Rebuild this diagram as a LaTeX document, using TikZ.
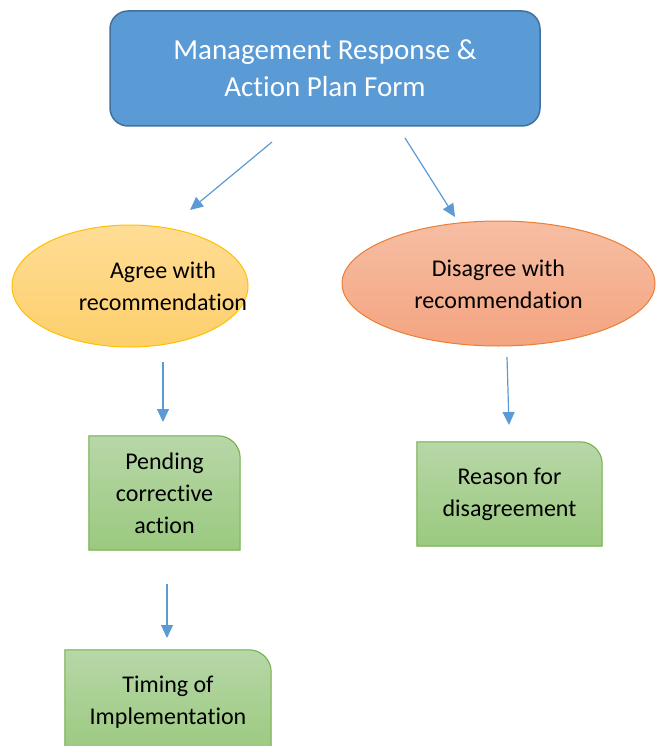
\documentclass[tikz,border=0pt]{standalone}
\usepackage{fontspec}
\setmainfont{Carlito}[Ligatures=NoCommon]
\usetikzlibrary{arrows.meta,shapes.geometric,backgrounds}

\definecolor{topblue}{HTML}{5B9BD5}
\definecolor{topedge}{HTML}{41719C}
\definecolor{agreetop}{HTML}{FFDD95}
\definecolor{agreebot}{HTML}{FDCF6C}
\definecolor{agreeedge}{HTML}{FFC000}
\definecolor{distop}{HTML}{F6BEA4}
\definecolor{disbot}{HTML}{F4A480}
\definecolor{disedge}{HTML}{ED7D31}
\definecolor{greentop}{HTML}{B7D7A8}
\definecolor{greenbot}{HTML}{9BC97F}
\definecolor{greenedge}{HTML}{70AD47}

\tikzset{
  headbox/.style={rectangle, rounded corners=18pt, draw=topedge, line width=1.5pt,
    fill=topblue, minimum width=430pt, minimum height=115pt, text=white,
    font=\fontsize{29}{37}\selectfont, align=center},
  oval/.style={ellipse, line width=1pt, inner sep=0pt},
  txt/.style={font=\fontsize{24}{32}\selectfont, align=center, inner sep=0pt},
  leafbox/.style={line width=1pt, draw=greenedge, top color=greentop, bottom color=greenbot},
  flow/.style={draw=topblue, line width=1.2pt, -{Triangle[length=13pt,width=12pt]}}
}

\begin{document}
\begin{tikzpicture}[x=1pt,y=-1pt]
  \clip (0,0) rectangle (661,746);
  \useasboundingbox (0,0) rectangle (661,746);

  \node[headbox] (form) at (325,68.5) {Management Response \&\\Action Plan Form};

  \node[oval, minimum width=236pt, minimum height=122pt, draw=agreeedge,
    top color=agreetop, bottom color=agreebot] (agree) at (130,286) {};
  \node[txt] (agreetext) at (163,286) {Agree with\\recommendation};

  \node[oval, minimum width=313pt, minimum height=125pt, draw=disedge,
    top color=distop, bottom color=disbot] (disagree) at (498.5,283.5) {};
  \node[txt] (disagreetext) at (498.5,284) {Disagree with\\recommendation};

  \node[txt, minimum width=151pt, minimum height=114pt] (pending) at (164.5,493)
    {Pending\\corrective\\action};
  \node[txt, minimum width=185pt, minimum height=104pt] (reason) at (509.5,494)
    {Reason for\\disagreement};
  \node[txt, minimum width=206pt, minimum height=104pt] (timing) at (168,702)
    {Timing of\\Implementation};

  % boxes with one round corner
  \begin{scope}[on background layer]
    \foreach \b in {pending,reason,timing}
      \draw[leafbox] (\b.south west) -- (\b.north west) -- ([xshift=-22pt]\b.north east)
        .. controls ([xshift=-10pt]\b.north east) and ([yshift=-10pt]\b.north east)
        .. ([yshift=-22pt]\b.north east) -- (\b.south east) -- cycle;
  \end{scope}

  % free arrow ends
  \coordinate (s1) at (272,142);
  \coordinate (e1) at (190,210);
  \coordinate (s2) at (405,138);
  \coordinate (e2) at (455,217);
  \coordinate (s3) at (163,362);
  \coordinate (e3) at (163,422);
  \coordinate (s4) at (507,357);
  \coordinate (e4) at (509,425);
  \coordinate (s5) at (167,584);
  \coordinate (e5) at (167,638);

  \draw[flow] (s1) -- (e1);
  \draw[flow] (s2) -- (e2);
  \draw[flow] (s3) -- (e3);
  \draw[flow] (s4) -- (e4);
  \draw[flow] (s5) -- (e5);
\end{tikzpicture}
\end{document}
